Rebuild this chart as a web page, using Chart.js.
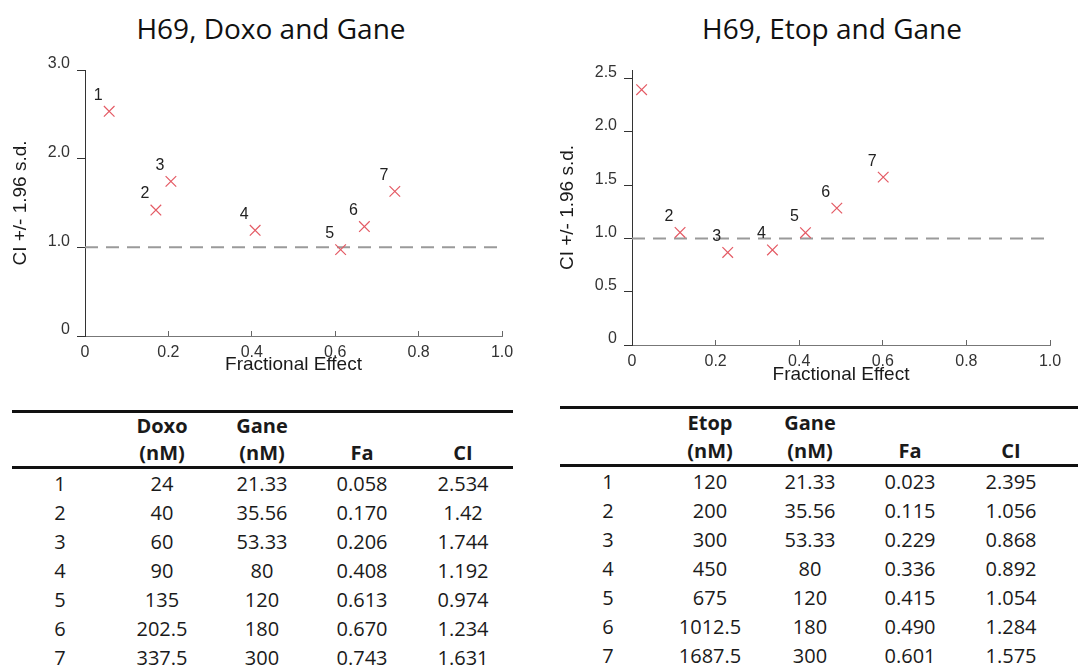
<!DOCTYPE html>
<html>
<head>
<meta charset="utf-8">
<script src="https://cdn.jsdelivr.net/npm/chart.js@4.4.0/dist/chart.umd.min.js"></script>
<style>
  body { margin: 0; background: #fff; width: 1078px; height: 666px; overflow: hidden; position: relative; font-family: "Open Sans", sans-serif; }
  .title { position: absolute; top: 7px; line-height: 42px; font-size: 28px; color: #111; white-space: nowrap; transform: translateX(-50%); }
  canvas { position: absolute; top: 0; }
  .tbl { position: absolute; border-collapse: collapse; table-layout: fixed; font-size: 20px; color: #1a1a1a; }
  .tbl thead tr { border-top: 3px solid #111; border-bottom: 3px solid #111; }
  .tbl th { font-weight: 700; vertical-align: bottom; padding: 0; text-align: center; }
  .tbl td { height: 29px; line-height: 29px; padding: 0; text-align: center; }
</style>
</head>
<body>
<div class="title" style="left:271px">H69, Doxo and Gane</div>
<div class="title" style="left:832px">H69, Etop and Gane</div>
<canvas id="plotDoxo" width="540" height="390" style="left:0"></canvas>
<canvas id="plotEtop" width="538" height="390" style="left:540px"></canvas>

<table class="tbl" id="tblDoxo" style="left:12px; top:410px; width:501px"></table>
<table class="tbl" id="tblEtop" style="left:560px; top:406px; width:518px"></table>

<script>
const rowIds = ["1", "2", "3", "4", "5", "6", "7"];

const doxo = [24, 40, 60, 90, 135, 202.5, 337.5];
const gane = [21.33, 35.56, 53.33, 80, 120, 180, 300];
const faDoxo = [0.058, 0.170, 0.206, 0.408, 0.613, 0.670, 0.743];
const ciDoxo = [2.534, 1.42, 1.744, 1.192, 0.974, 1.234, 1.631];

const etop = [120, 200, 300, 450, 675, 1012.5, 1687.5];
const faEtop = [0.023, 0.115, 0.229, 0.336, 0.415, 0.490, 0.601];
const ciEtop = [2.395, 1.056, 0.868, 0.892, 1.054, 1.284, 1.575];

// point number labels (point 1 has no label on the Etop plot)
const labelsDoxo = ["1", "2", "3", "4", "5", "6", "7"];
const labelsEtop = ["", "2", "3", "4", "5", "6", "7"];

const xTicks = [0, 0.2, 0.4, 0.6, 0.8, 1.0];
const yTicksDoxo = [0, 1, 2, 3];
const yTicksEtop = [0, 0.5, 1, 1.5, 2, 2.5];
const ciRef = 1; // additivity line

const axisFont = { family: '"Liberation Sans", Arial, sans-serif', size: 16 };
const titleFont = { family: '"Liberation Sans", Arial, sans-serif', size: 19 };
const fmt = (v) => (v === 0 ? "0" : v.toFixed(1));

const pointLabels = {
  id: "pointLabels",
  afterDatasetsDraw(chart, args, opts) {
    const meta = chart.getDatasetMeta(0);
    const ctx = chart.ctx;
    ctx.save();
    ctx.font = '16px "Liberation Sans", Arial, sans-serif';
    ctx.fillStyle = "#222";
    ctx.textAlign = "center";
    ctx.textBaseline = "middle";
    meta.data.forEach((pt, i) => {
      const txt = opts.labels[i];
      if (txt) ctx.fillText(txt, pt.x - 11, pt.y - 16);
    });
    ctx.restore();
  },
};

function drawPlot(id, fa, ci, labels, yTicks, yMax, lay) {
  new Chart(document.getElementById(id), {
    type: "scatter",
    data: {
      datasets: [
        {
          data: fa.map((x, i) => ({ x: x, y: ci[i] })),
          pointStyle: "crossRot",
          pointRadius: 7.5,
          pointHoverRadius: 7.5,
          pointBorderColor: "rgb(228, 90, 100)",
          pointBorderWidth: 1.2,
          order: 1,
        },
        {
          type: "line",
          data: [
            { x: xTicks[0], y: ciRef },
            { x: xTicks[xTicks.length - 1], y: ciRef },
          ],
          borderColor: "#9a9a9a",
          borderWidth: 2,
          borderDash: [13, 8],
          pointRadius: 0,
          order: 2,
        },
      ],
    },
    plugins: [pointLabels],
    options: {
      responsive: false,
      animation: false,
      layout: { padding: { top: 70, right: lay.padRight, bottom: 0, left: 0 } },
      plugins: {
        legend: { display: false },
        tooltip: { enabled: false },
        pointLabels: { labels: labels },
      },
      scales: {
        x: {
          type: "linear",
          min: 0,
          max: 1,
          afterBuildTicks: (s) => { s.ticks = xTicks.map((v) => ({ value: v })); },
          afterFit: (s) => { s.height = lay.xHeight; },
          ticks: { callback: fmt, font: axisFont, color: "#333", padding: 12, maxRotation: 0 },
          grid: { drawOnChartArea: false, drawTicks: true, tickLength: -5, color: "#666" },
          border: { color: "#777", width: 1 },
          title: {
            display: true,
            text: "Fractional Effect",
            font: titleFont,
            color: "#1a1a1a",
            padding: { top: 0, bottom: lay.xTitlePad },
          },
        },
        y: {
          min: 0,
          max: yMax,
          afterBuildTicks: (s) => { s.ticks = yTicks.map((v) => ({ value: v })); },
          afterFit: (s) => { s.width = lay.yWidth; },
          ticks: { callback: fmt, font: axisFont, color: "#333", padding: 7, labelOffset: -6 },
          grid: { drawOnChartArea: false, drawTicks: true, tickLength: 8, color: "#333" },
          border: { color: "#333", width: 1 },
          title: {
            display: true,
            text: "CI +/- 1.96 s.d.",
            font: titleFont,
            color: "#1a1a1a",
            padding: { top: lay.yTitlePad, bottom: 0 },
          },
        },
      },
    },
  });
}

drawPlot("plotDoxo", faDoxo, ciDoxo, labelsDoxo, yTicksDoxo, 3, {
  padRight: 38, xHeight: 54, yWidth: 85, xTitlePad: 14, yTitlePad: 9,
});
drawPlot("plotEtop", faEtop, ciEtop, labelsEtop, yTicksEtop, 2.58, {
  padRight: 28, xHeight: 45, yWidth: 92, xTitlePad: 4, yTitlePad: 16,
});

// tables
function fillTable(id, drugName, drug, fa, ci, headH) {
  const colW = [96, 108, 92, 108, 94];
  let html = "<colgroup>" + colW.map((w) => '<col style="width:' + w + 'px">').join("") + "<col></colgroup>";
  const lh = 'style="line-height:' + headH + 'px"';
  html += "<thead><tr>";
  html += "<th></th>";
  html += "<th " + lh + ">" + drugName + "<br>(nM)</th>";
  html += "<th " + lh + ">Gane<br>(nM)</th>";
  html += "<th " + lh + ">Fa</th>";
  html += "<th " + lh + ">CI</th><th></th>";
  html += "</tr></thead><tbody>";
  rowIds.forEach((r, i) => {
    html += "<tr><td>" + r + "</td><td>" + drug[i] + "</td><td>" + gane[i] +
      "</td><td>" + fa[i].toFixed(3) + "</td><td>" + ci[i] + "</td><td></td></tr>";
  });
  html += "</tbody>";
  document.getElementById(id).innerHTML = html;
}

fillTable("tblDoxo", "Doxo", doxo, faDoxo, ciDoxo, 26.5);
fillTable("tblEtop", "Etop", etop, faEtop, ciEtop, 27.5);
</script>
</body>
</html>
